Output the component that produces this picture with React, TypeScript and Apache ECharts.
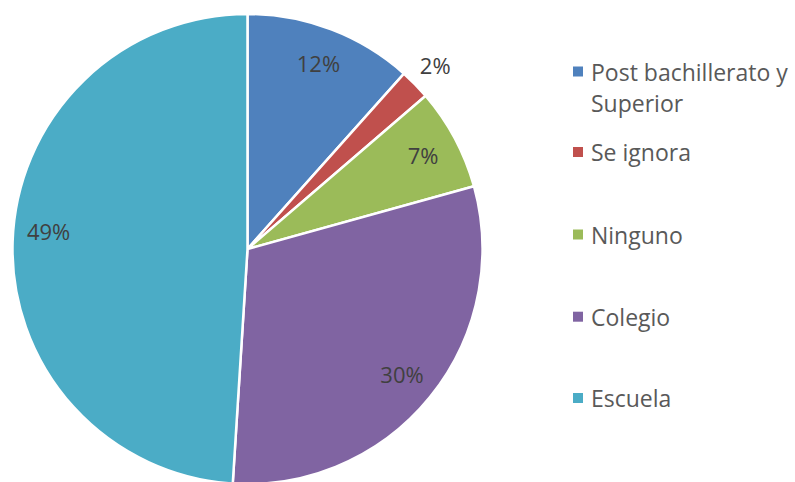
import React, { useEffect, useRef } from "react";
import * as echarts from "echarts";

const categories = ["Post bachillerato y Superior", "Se ignora", "Ninguno", "Colegio", "Escuela"];
const legendLabels = ["\nPost bachillerato y\nSuperior", "Se ignora", "Ninguno", "Colegio", "Escuela"];
const values = [11.6, 2.1, 7.0, 30.3, 49.0];
const colors = ["#4F81BD", "#C0504D", "#9BBB59", "#8064A2", "#4BACC6"];
const outsideLabelIndex = 1;
const raisedLabelIndex = 4;

const FONT = "'Open Sans', 'Liberation Sans', sans-serif";
const CENTER = [247.5, 249];
const R = 235;
const legendCenters = [71.5, 152, 234.5, 316.7, 398];

export default function App() {
  const ref = useRef<HTMLDivElement>(null);
  useEffect(() => {
    if (!ref.current) return;
    const chart = echarts.init(ref.current, undefined, { renderer: "svg" });
    const labelStyle = {
      fontSize: 22,
      color: "#404040",
      fontFamily: FONT,
      formatter: "{d}%",
    };
    const main = {
      type: "pie",
      center: CENTER,
      radius: [0, R],
      startAngle: 90,
      clockwise: true,
      avoidLabelOverlap: false,
      label: { show: false },
      labelLine: { show: false },
      emphasis: { disabled: true },
      itemStyle: { borderColor: "#ffffff", borderWidth: 2.5 },
      data: categories.map((name, i) => ({
        name,
        value: values[i],
        itemStyle: { color: colors[i] },
      })),
    };
    const overlayInside = {
      type: "pie",
      center: CENTER,
      radius: [157, R],
      startAngle: 90,
      clockwise: true,
      silent: true,
      avoidLabelOverlap: false,
      percentPrecision: 0,
      emphasis: { disabled: true },
      labelLine: { show: false },
      itemStyle: { color: "rgba(0,0,0,0)", borderWidth: 0 },
      label: { show: true, position: "inside", ...labelStyle },
      data: categories.map((name, i) => ({
        name,
        value: values[i],
        label:
          i === raisedLabelIndex
            ? { show: true, formatter: "{d}%\n", lineHeight: 24 }
            : { show: i !== outsideLabelIndex },
      })),
    };
    const overlayOutside = {
      type: "pie",
      center: CENTER,
      radius: [240, 280],
      startAngle: 90,
      clockwise: true,
      silent: true,
      avoidLabelOverlap: false,
      percentPrecision: 0,
      emphasis: { disabled: true },
      labelLine: { show: false },
      itemStyle: { color: "rgba(0,0,0,0)", borderWidth: 0 },
      label: { show: true, position: "inside", ...labelStyle },
      data: categories.map((name, i) => ({
        name,
        value: values[i],
        label: { show: i === outsideLabelIndex },
      })),
    };
    const legends = categories.map((name, i) => ({
      data: [name],
      orient: "vertical",
      left: 573,
      top: i === 0 ? legendCenters[0] - 46.5 : legendCenters[i] - 15.5,
      padding: 0,
      itemWidth: 10,
      itemHeight: 10,
      icon: "rect",
      selectedMode: false,
      itemStyle: { borderWidth: 0 },
      formatter: () => legendLabels[i],
      textStyle: {
        fontSize: 23,
        lineHeight: 31,
        color: "#595959",
        fontFamily: FONT,
        padding: [0, 0, 0, 3],
      },
    }));
    chart.setOption({
      animation: false,
      backgroundColor: "#ffffff",
      legend: legends,
      series: [main, overlayInside, overlayOutside],
    });
    return () => chart.dispose();
  }, []);
  return (
    <div
      ref={ref}
      style={{ position: "fixed", left: 0, top: 0, width: 795, height: 482 }}
    />
  );
}
